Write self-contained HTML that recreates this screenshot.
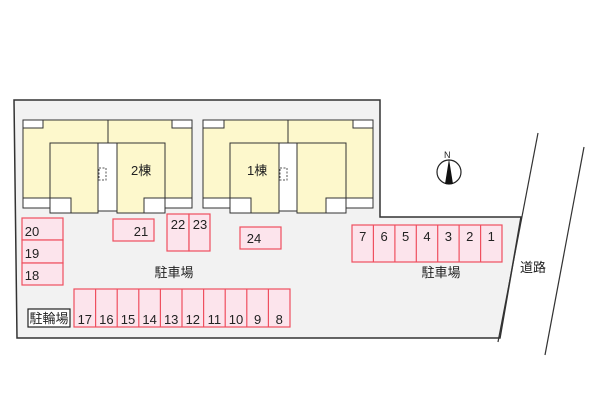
<!DOCTYPE html>
<html><head><meta charset="utf-8"><style>
html,body{margin:0;padding:0;background:#fff;}
svg{display:block}
text{font-family:"Liberation Sans","Noto Sans CJK JP",sans-serif;fill:#222;}
</style></head><body>
<svg width="600" height="400" viewBox="0 0 600 400" xmlns="http://www.w3.org/2000/svg">
<polygon points="14,100 380,100 380,217 521,217 500,338 17,338" fill="#f2f2f2" stroke="#333" stroke-width="1.5"/>
<line x1="538" y1="133" x2="498" y2="342" stroke="#333" stroke-width="1.2"/>
<line x1="584" y1="147" x2="545" y2="355" stroke="#333" stroke-width="1.2"/>
<text x="520" y="272" font-size="13">道路</text>

<!-- Building 2 -->
<g stroke="#333" stroke-width="1">
<rect x="23" y="120" width="169" height="88" fill="#fdf8cc"/>
<line x1="108" y1="120" x2="108" y2="143"/>
<rect x="23" y="120" width="20" height="8" fill="#fff"/>
<rect x="172" y="120" width="20" height="8" fill="#fff"/>
<rect x="23" y="198" width="27" height="10" fill="#fff"/>
<rect x="165" y="198" width="27" height="10" fill="#fff"/>
<rect x="50" y="143" width="48" height="70" fill="#fdf8cc"/>
<rect x="98" y="143" width="19" height="68" fill="#fff"/>
<rect x="117" y="143" width="48" height="70" fill="#fdf8cc"/>
<rect x="50" y="198" width="21" height="15" fill="#fff"/>
<rect x="144" y="198" width="21" height="15" fill="#fff"/>
<rect x="99" y="168" width="7" height="12" fill="none" stroke-dasharray="2,1.5" stroke="#555"/>
</g>
<text x="131" y="175" font-size="13">2棟</text>

<!-- Building 1 -->
<g stroke="#333" stroke-width="1">
<rect x="203" y="120" width="170" height="88" fill="#fdf8cc"/>
<line x1="288" y1="120" x2="288" y2="143"/>
<rect x="203" y="120" width="21" height="8" fill="#fff"/>
<rect x="353" y="120" width="20" height="8" fill="#fff"/>
<rect x="203" y="198" width="27" height="10" fill="#fff"/>
<rect x="346" y="198" width="27" height="10" fill="#fff"/>
<rect x="230" y="143" width="49" height="70" fill="#fdf8cc"/>
<rect x="279" y="143" width="18" height="68" fill="#fff"/>
<rect x="297" y="143" width="49" height="70" fill="#fdf8cc"/>
<rect x="230" y="198" width="21" height="15" fill="#fff"/>
<rect x="326" y="198" width="20" height="15" fill="#fff"/>
<rect x="280" y="168" width="7" height="12" fill="none" stroke-dasharray="2,1.5" stroke="#555"/>
</g>
<text x="247" y="175" font-size="13">1棟</text>

<!-- Compass -->
<circle cx="449" cy="172" r="12" fill="#fff" stroke="#222" stroke-width="1.2"/>
<polygon points="449,159 445,184 453,184" fill="#111"/>
<text x="444" y="158" font-size="9">N</text>

<g fill="#fce4ec" stroke="#ef4f5f" stroke-width="1.2">
<!-- 1-7 -->
<rect x="352" y="225" width="150" height="37"/>
<line x1="373.4" y1="225" x2="373.4" y2="262"/><line x1="394.9" y1="225" x2="394.9" y2="262"/>
<line x1="416.3" y1="225" x2="416.3" y2="262"/><line x1="437.7" y1="225" x2="437.7" y2="262"/>
<line x1="459.1" y1="225" x2="459.1" y2="262"/><line x1="480.6" y1="225" x2="480.6" y2="262"/>
<rect x="240" y="227" width="41" height="22"/>
<rect x="167" y="214" width="22" height="37"/>
<rect x="189" y="214" width="21" height="37"/>
<rect x="113" y="219" width="41" height="22"/>
<rect x="22" y="218" width="41" height="22"/>
<rect x="22" y="240" width="41" height="23"/>
<rect x="22" y="263" width="41" height="22"/>
<rect x="74" y="289" width="216" height="38"/>
<line x1="95.6" y1="289" x2="95.6" y2="327"/><line x1="117.2" y1="289" x2="117.2" y2="327"/>
<line x1="138.8" y1="289" x2="138.8" y2="327"/><line x1="160.4" y1="289" x2="160.4" y2="327"/>
<line x1="182" y1="289" x2="182" y2="327"/><line x1="203.6" y1="289" x2="203.6" y2="327"/>
<line x1="225.2" y1="289" x2="225.2" y2="327"/><line x1="246.8" y1="289" x2="246.8" y2="327"/>
<line x1="268.4" y1="289" x2="268.4" y2="327"/>
</g>
<g font-size="13" text-anchor="middle">
<text x="362.7" y="241">7</text><text x="384.1" y="241">6</text><text x="405.6" y="241">5</text>
<text x="427" y="241">4</text><text x="448.4" y="241">3</text><text x="469.8" y="241">2</text><text x="491.3" y="241">1</text>
<text x="254" y="243">24</text>
<text x="178" y="229">22</text><text x="200" y="229">23</text>
<text x="141" y="236">21</text>
<text x="32" y="236">20</text><text x="32" y="258">19</text><text x="32" y="280">18</text>
<text x="84.8" y="324">17</text><text x="106.4" y="324">16</text><text x="128" y="324">15</text>
<text x="149.6" y="324">14</text><text x="171.2" y="324">13</text><text x="192.8" y="324">12</text>
<text x="214.4" y="324">11</text><text x="236" y="324">10</text><text x="257.6" y="324">9</text><text x="279.2" y="324">8</text>
</g>
<text x="441" y="277" font-size="13" text-anchor="middle">駐車場</text>
<text x="174" y="277" font-size="13" text-anchor="middle">駐車場</text>
<rect x="28" y="309" width="42" height="18" fill="#fff" stroke="#222" stroke-width="1.2"/>
<text x="49" y="323" font-size="13" text-anchor="middle">駐輪場</text>
</svg>
</body></html>
